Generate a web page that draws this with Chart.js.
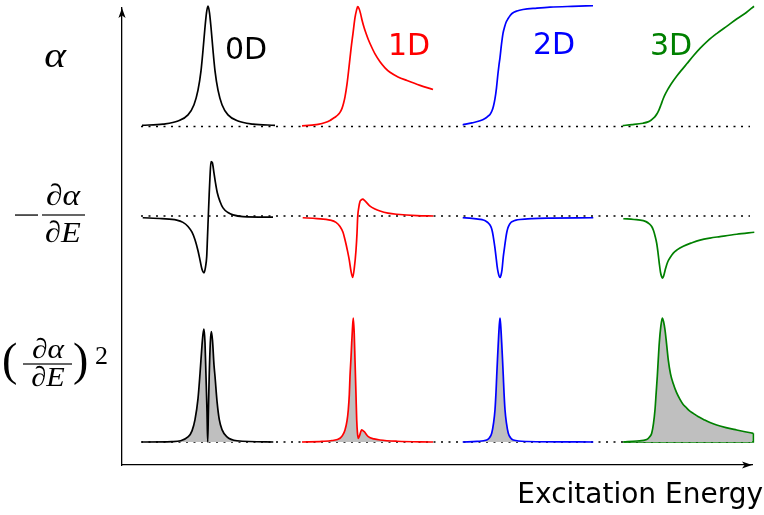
<!DOCTYPE html>
<html><head><meta charset="utf-8">
<script src="https://cdn.jsdelivr.net/npm/chart.js@4.4.1/dist/chart.umd.min.js"></script>
<style>html,body{margin:0;padding:0;background:#fff}#wrap{width:764px;height:515px;position:relative}</style>
</head><body><div id="wrap"><canvas id="c"></canvas></div>
<script>
// ---------- data (energy in arbitrary units within each panel, normalised response) ----------
const categories = ['0D', '1D', '2D', '3D'];
const axisTitle = 'Excitation Energy';

// row 1: alpha
const alpha0D = [[0,0.01],[21,0.02],[36,0.045],[46,0.096],[52,0.18],[56,0.30],[59,0.46],[61,0.63],[63,0.82],[64.5,0.94],[66,0.995],[67.5,0.94],[69,0.82],[71,0.63],[73,0.46],[76,0.30],[80,0.18],[86,0.096],[96,0.045],[111,0.02],[133,0.01]];
const alpha1D = [[0,0.005],[10,0.012],[16,0.017],[24,0.035],[28,0.05],[31,0.066],[34,0.083],[36,0.097],[38,0.117],[40,0.15],[41.5,0.19],[43,0.245],[45,0.35],[47,0.49],[49,0.64],[51,0.77],[53,0.9],[54.5,0.96],[55.7,0.99],[57,0.975],[58.5,0.935],[60,0.88],[62,0.82],[64,0.77],[66,0.725],[68,0.686],[73,0.6],[78,0.535],[83,0.485],[88,0.448],[96,0.41],[105,0.38],[118,0.34],[131,0.306]];
const alpha2D = [[0.7,0.014],[10,0.03],[18,0.047],[23,0.066],[26,0.085],[28,0.1],[30,0.13],[31.5,0.17],[33,0.23],[34.5,0.32],[36,0.44],[37,0.51],[38,0.57],[39.5,0.68],[41,0.77],[42.5,0.82],[44,0.86],[46,0.89],[48,0.915],[50,0.934],[55,0.955],[61,0.967],[75,0.978],[88,0.986],[110,0.993],[131,0.998]];
const alpha3D = [[0.7,0.008],[10,0.015],[21,0.027],[26,0.038],[29,0.052],[31,0.066],[33,0.082],[35,0.105],[37,0.138],[39,0.18],[41,0.225],[43,0.263],[45.5,0.302],[48,0.337],[51.5,0.38],[55,0.42],[60,0.47],[65,0.52],[71,0.58],[78,0.645],[86,0.71],[95,0.77],[105,0.83],[115,0.89],[124,0.94],[132,0.994]];

// row 2: -d(alpha)/dE
const deriv0D = [[0.7,-0.03],[20,-0.045],[34.7,-0.07],[41,-0.11],[46,-0.18],[50,-0.28],[53,-0.41],[56,-0.6],[58,-0.76],[60,-0.92],[62,-0.98],[63.5,-0.88],[64.7,-0.70],[65.5,-0.36],[66.3,-0.01],[67.2,0.38],[68,0.68],[69,0.94],[70.3,0.92],[72,0.74],[73.5,0.57],[75.3,0.40],[78,0.25],[81,0.14],[86,0.06],[91,0.02],[101,-0.01],[131,-0.02]];
const deriv1D = [[0.7,-0.03],[15,-0.045],[28,-0.07],[34,-0.11],[38,-0.18],[41,-0.28],[43,-0.41],[45.5,-0.6],[47.3,-0.76],[49,-0.95],[50.7,-1.06],[52.3,-0.9],[54,-0.59],[55,-0.3],[55.7,-0.01],[56.8,0.15],[58,0.25],[59.5,0.28],[60.7,0.29],[63,0.26],[68,0.17],[73,0.12],[78,0.086],[86,0.05],[94.7,0.03],[114.7,0.005],[131.3,0]];
const deriv2D = [[0.7,-0.03],[10,-0.04],[18,-0.058],[21.3,-0.07],[24,-0.09],[26,-0.115],[28,-0.155],[29.5,-0.21],[30.5,-0.28],[31.3,-0.36],[32.7,-0.52],[34,-0.70],[35,-0.85],[36,-0.96],[37,-1.03],[38,-1.06],[39,-1.02],[40,-0.93],[41.3,-0.70],[42.7,-0.52],[44,-0.36],[44.8,-0.28],[45.8,-0.21],[47,-0.16],[48.5,-0.12],[50.5,-0.095],[54,-0.072],[58,-0.06],[70,-0.045],[88,-0.037],[131.3,-0.03]];
const deriv3D = [[1.3,-0.047],[12,-0.06],[21.3,-0.08],[24,-0.097],[27,-0.13],[29.7,-0.18],[31.5,-0.25],[33,-0.34],[34.7,-0.47],[36,-0.63],[37.3,-0.82],[38.5,-0.97],[39.5,-1.04],[40.3,-1.07],[41.3,-1.05],[42.5,-0.98],[43.5,-0.91],[44.7,-0.84],[46,-0.78],[48,-0.72],[51.3,-0.64],[55,-0.585],[61.3,-0.52],[70,-0.46],[78,-0.415],[88,-0.38],[98,-0.355],[114.7,-0.315],[132.3,-0.28]];

// row 3: (d(alpha)/dE)^2
const sq0D = [[0,0],[30,0.003],[46.3,0.043],[50,0.09],[53,0.18],[56,0.35],[58,0.55],[60,0.78],[61,0.87],[62,0.91],[63,0.8],[64,0.53],[65,0.25],[65.7,0],[66.4,0.25],[67.2,0.53],[68.3,0.8],[69.3,0.89],[70.5,0.82],[72,0.62],[73,0.53],[75,0.33],[77.3,0.18],[80,0.1],[84.7,0.043],[95,0.01],[131.3,0]];
const sq1D = [[0,0],[20,0.005],[30,0.012],[38,0.03],[41,0.06],[43,0.097],[45,0.17],[46.3,0.26],[47.3,0.38],[48,0.53],[49,0.68],[49.7,0.80],[50.5,0.92],[51.3,1.0],[52.2,0.88],[53,0.66],[54,0.38],[54.7,0.18],[55.5,0.07],[56.3,0.03],[57.5,0.05],[59.7,0.097],[62,0.085],[66.3,0.043],[72,0.025],[78,0.016],[95,0.006],[131,0]];
const sq2D = [[0.7,0],[15,0.005],[24.7,0.016],[27.5,0.035],[29.7,0.07],[31.5,0.15],[33,0.26],[34,0.4],[34.7,0.53],[35.5,0.67],[36.3,0.80],[37.2,0.93],[38,1.0],[38.8,0.93],[39.7,0.80],[40.5,0.67],[41.3,0.53],[42,0.4],[43,0.26],[44.5,0.15],[46.3,0.07],[48.5,0.035],[51.3,0.016],[65,0.004],[131.3,0]];
const sq3D = [[1.3,0],[15,0.008],[24.7,0.02],[27.5,0.04],[29.7,0.07],[31.5,0.15],[33,0.26],[34.2,0.4],[35.3,0.53],[36.3,0.67],[37.3,0.80],[38.8,0.93],[40.3,1.0],[41.6,0.97],[43,0.905],[44.6,0.79],[46.3,0.66],[48.5,0.55],[51.3,0.47],[54.5,0.4],[58,0.344],[61,0.305],[64,0.28],[67,0.255],[71.3,0.231],[76,0.205],[82,0.18],[88,0.157],[94.7,0.137],[104,0.116],[114.7,0.097],[123,0.083],[131.3,0.07]];

// ---------- layout & style (not data) ----------
const colors = ['#000000', '#ff0000', '#0000ff', '#008000'];
const layout = {
  colOffset: [20, 180, 340, 500],
  rowBase: [338.5, 249, 23],
  rowAmp: [121, 58, 124],
  xMin: 0, xMax: 630, yMin: 0, yMax: 457,
  dotFrom: 19, dotTo: 628
};
const rows = [
  [alpha0D, alpha1D, alpha2D, alpha3D],
  [deriv0D, deriv1D, deriv2D, deriv3D],
  [sq0D, sq1D, sq2D, sq3D]
];

function place(series, r, c) {
  return series.map(p => ({ x: layout.colOffset[c] + p[0], y: layout.rowBase[r] + p[1] * layout.rowAmp[r] }));
}

const datasets = [];
rows.forEach((row, r) => {
  row.forEach((series, c) => {
    datasets.push({
      data: place(series, r, c),
      borderColor: colors[c],
      borderWidth: 1.7,
      cubicInterpolationMode: 'monotone',
      fill: r === 2 ? { value: layout.rowBase[2] } : false,
      backgroundColor: '#bfbfbf'
    });
  });
});
// closing outline of the last (3D) filled panel
{
  const pts = place(sq3D, 2, 3);
  const last = pts[pts.length - 1], first = pts[0];
  datasets.push({
    data: [last, { x: last.x, y: layout.rowBase[2] }, { x: first.x, y: layout.rowBase[2] }],
    borderColor: colors[3], borderWidth: 1.7, tension: 0, fill: false
  });
}
// dotted baselines (drawn underneath)
layout.rowBase.forEach(b => {
  datasets.push({
    data: [{ x: layout.dotFrom, y: b }, { x: layout.dotTo, y: b }],
    borderColor: '#000', borderWidth: 1.6, borderDash: [2, 5.5], tension: 0, fill: false
  });
});

function arrow(ctx, x, y, dx, dy) {
  const nx = -dy, ny = dx;
  ctx.beginPath();
  ctx.moveTo(x, y);
  ctx.lineTo(x - dx * 10 + nx * 3.6, y - dy * 10 + ny * 3.6);
  ctx.lineTo(x - dx * 7.5, y - dy * 7.5);
  ctx.lineTo(x - dx * 10 - nx * 3.6, y - dy * 10 - ny * 3.6);
  ctx.closePath();
  ctx.fill();
}
function wideText(ctx, text, cx, y, sx) {
  ctx.save();
  ctx.translate(cx, y);
  ctx.scale(sx, 1);
  ctx.textAlign = 'center';
  ctx.fillText(text, 0, 0);
  ctx.restore();
}
function frac(ctx, cx, barY, barL, barR, num, den, size, numOff, denOff) {
  ctx.font = 'italic ' + size + 'px "Liberation Serif"';
  ctx.textBaseline = 'alphabetic';
  wideText(ctx, num, cx, barY - numOff, 1.12);
  wideText(ctx, den, cx, barY + denOff, 1.08);
  ctx.fillRect(barL, barY - 0.6, barR - barL, 1.2);
}

const textPlugin = {
  id: 'texts',
  afterDraw(chart) {
    const ctx = chart.ctx, a = chart.chartArea;
    ctx.save();
    ctx.fillStyle = '#000';
    arrow(ctx, a.left, a.top, 0, -1);
    arrow(ctx, a.right, a.bottom, 1, 0);

    // column labels
    const lp = [[225, 59], [388, 55], [533, 54], [650, 55]];
    ctx.font = '30px "DejaVu Sans"';
    ctx.textAlign = 'left';
    ctx.textBaseline = 'alphabetic';
    categories.forEach((t, i) => { ctx.fillStyle = colors[i]; ctx.fillText(t, lp[i][0], lp[i][1]); });

    // axis title
    ctx.fillStyle = '#000';
    ctx.font = '28px "DejaVu Sans"';
    ctx.textAlign = 'right';
    ctx.fillText(axisTitle, 763, 503);

    // row labels
    ctx.font = 'italic 36px "Liberation Serif"';
    wideText(ctx, 'α', 55, 67, 1.15);

    ctx.fillRect(15, 214.4, 23, 1.3); // minus sign of −∂α/∂E
    frac(ctx, 63, 215, 42, 85, '∂α', '∂E', 30, 10, 27);

    frac(ctx, 48, 364, 23, 72, '∂α', '∂E', 28, 6, 22);
    ctx.font = '46px "Liberation Serif"';
    ctx.textBaseline = 'middle';
    ctx.textAlign = 'left';
    ctx.fillText('(', 2, 363);
    ctx.fillText(')', 73, 363);
    ctx.textBaseline = 'alphabetic';
    ctx.font = '26px "Liberation Serif"';
    ctx.fillText('2', 95, 364);
    ctx.restore();
  }
};

new Chart(document.getElementById('c'), {
  type: 'line',
  data: { datasets },
  options: {
    responsive: true,
    maintainAspectRatio: false,
    animation: false,
    devicePixelRatio: 1,
    layout: { padding: { left: 122, right: 12, top: 8, bottom: 50 } },
    elements: { point: { radius: 0, hoverRadius: 0 } },
    datasets: { line: { clip: false, pointRadius: 0 } },
    plugins: { legend: { display: false }, tooltip: { enabled: false }, title: { display: false } },
    events: [],
    scales: {
      x: { type: 'linear', min: layout.xMin, max: layout.xMax,
           grid: { display: false, drawTicks: false }, ticks: { display: false },
           border: { display: true, color: '#000', width: 1.3 } },
      y: { type: 'linear', min: layout.yMin, max: layout.yMax,
           grid: { display: false, drawTicks: false }, ticks: { display: false },
           border: { display: true, color: '#000', width: 1.3 } }
    }
  },
  plugins: [textPlugin]
});
</script>
</body></html>
